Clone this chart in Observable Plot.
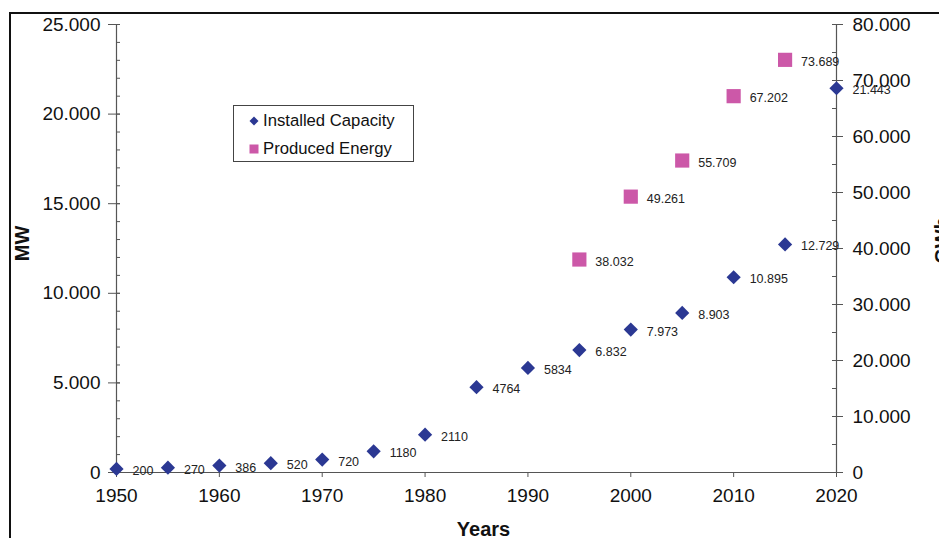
<!DOCTYPE html>
<html>
<head>
<meta charset="utf-8">
<script src="https://cdn.jsdelivr.net/npm/d3@7"></script>
<script src="https://cdn.jsdelivr.net/npm/@observablehq/plot@0.6"></script>
<style>
  html, body { margin: 0; padding: 0; background: #fff; overflow: hidden; }
  #wrap { position: relative; width: 939px; height: 538px; font-family: "Liberation Sans", Arial, sans-serif; }
  #frame { position: absolute; left: 9px; top: 12px; width: 1200px; height: 800px; border-left: 2px solid #111; border-top: 2px solid #111; }
  #legend { position: absolute; left: 233px; top: 105px; width: 181px; height: 57px; border: 1px solid #444; background: #fff; box-sizing: border-box; font-size: 16.7px; color: #111; }
  .li { position: absolute; left: 15px; display: flex; align-items: center; white-space: nowrap; }
  .li svg { margin-right: 4px; }
</style>
</head>
<body>
<div id="wrap">
  <div id="frame"></div>
  <div id="chart"></div>
  <div id="legend"></div>
</div>
<script>
// ---- data ----
const years = [1950, 1955, 1960, 1965, 1970, 1975, 1980, 1985, 1990, 1995, 2000, 2005, 2010, 2015, 2020];
const capacity = [200, 270, 386, 520, 720, 1180, 2110, 4764, 5834, 6832, 7973, 8903, 10895, 12729, 21443];
const capacityLabels = ["200", "270", "386", "520", "720", "1180", "2110", "4764", "5834", "6.832", "7.973", "8.903", "10.895", "12.729", "21.443"];
const energyYears = [1995, 2000, 2005, 2010, 2015];
const energy = [38032, 49261, 55709, 67202, 73689];
const energyLabels = ["38.032", "49.261", "55.709", "67.202", "73.689"];
const xTicks = [1950, 1960, 1970, 1980, 1990, 2000, 2010, 2020];
const leftTicks = [0, 5000, 10000, 15000, 20000, 25000];
const rightTicks = [0, 10000, 20000, 30000, 40000, 50000, 60000, 70000, 80000];
const seriesNames = ["Installed Capacity", "Produced Energy"];
const leftMax = 25000, rightMax = 80000;

const capColor = "#2B3893";
const enColor = "#CC58A8";

const k = leftMax / rightMax;
const fmt = d3.formatLocale({decimal: ",", thousands: ".", grouping: [3], currency: ["", ""]}).format(",");

const capData = years.map((y, i) => ({year: y, value: capacity[i], label: capacityLabels[i]}));
const enData = energyYears.map((y, i) => ({year: y, value: energy[i] * k, label: energyLabels[i]}));

const leftMinor = d3.range(0, leftMax + 1, 1000);
const rightMinor = d3.range(0, rightMax + 1, 5000).map(v => v * k);
const axisColor = "#555";

const chart = Plot.plot({
  width: 939,
  height: 538,
  marginLeft: 116,
  marginRight: 103,
  marginTop: 24,
  marginBottom: 66,
  x: {domain: [1950, 2020]},
  y: {domain: [0, leftMax]},
  style: {fontFamily: "Liberation Sans, Arial, sans-serif", background: "transparent", color: "#111"},
  marks: [
    Plot.ruleY([0], {stroke: axisColor, strokeWidth: 1.2}),
    Plot.ruleX([1950, 2020], {stroke: axisColor, strokeWidth: 1.2}),
    // left axis ticks
    Plot.axisY({ticks: leftMinor, tickSize: 4, dx: 4, tickFormat: () => "", label: null, stroke: axisColor}),
    Plot.axisY({ticks: leftTicks, tickSize: 12, dx: 4, tickFormat: () => "", label: null, stroke: axisColor}),
    Plot.axisY({ticks: leftTicks, tickSize: 0, tickPadding: 16, tickFormat: d => fmt(d), label: null, fontSize: 19, stroke: "none"}),
    // right axis
    Plot.axisY({anchor: "right", ticks: rightMinor, tickSize: 5, dx: -5, tickFormat: () => "", label: null, stroke: axisColor}),
    Plot.axisY({anchor: "right", ticks: rightTicks.map(v => v * k), tickSize: 11, dx: -5, tickFormat: () => "", label: null, stroke: axisColor}),
    Plot.axisY({anchor: "right", ticks: rightTicks.map(v => v * k), tickSize: 0, tickPadding: 16, tickFormat: d => fmt(Math.round(d / k)), label: null, fontSize: 19, stroke: "none"}),
    // x axis
    Plot.axisX({ticks: xTicks, tickSize: 5, tickPadding: 11, tickFormat: d => String(d), label: null, fontSize: 19, stroke: axisColor}),
    // axis titles
    Plot.text(["MW"], {frameAnchor: "left", dx: -94, dy: -5, rotate: -90, textAnchor: "middle", fontWeight: "bold", fontSize: 20, fill: "#111"}),
    Plot.text(["GWb"], {frameAnchor: "right", dx: 106, dy: -8, rotate: -90, textAnchor: "middle", fontWeight: "bold", fontSize: 20, fill: "#111"}),
    Plot.text(["Years"], {frameAnchor: "bottom", dx: 7, dy: 63, fontWeight: "bold", fontSize: 20, fill: "#111"}),
    // data
    Plot.dot(enData, {x: "year", y: "value", symbol: "square", r: 8, fill: enColor, stroke: "none"}),
    Plot.dot(capData, {x: "year", y: "value", symbol: "diamond2", r: 6.4, fill: capColor, stroke: "none"}),
    Plot.text(enData, {x: "year", y: "value", text: "label", dx: 16, dy: 2, textAnchor: "start", fontSize: 12.5, fill: "#222"}),
    Plot.text(capData, {x: "year", y: "value", text: "label", dx: 16, dy: 2, textAnchor: "start", fontSize: 12.5, fill: "#222"})
  ]
});
document.getElementById("chart").appendChild(chart);

// legend
const legend = document.getElementById("legend");
const sym = [
  `<svg width="10" height="10" viewBox="-5 -5 10 10"><path d="M0,-4.5L4.5,0L0,4.5L-4.5,0Z" fill="${capColor}"/></svg>`,
  `<svg width="10" height="10" viewBox="-5 -5 10 10"><rect x="-4.5" y="-4.5" width="9" height="9" fill="${enColor}"/></svg>`
];
seriesNames.forEach((name, i) => {
  const d = document.createElement("div");
  d.className = "li";
  d.style.top = (i === 0 ? 5 : 33) + "px";
  d.innerHTML = sym[i] + `<span>${name}</span>`;
  legend.appendChild(d);
});
</script>
</body>
</html>
